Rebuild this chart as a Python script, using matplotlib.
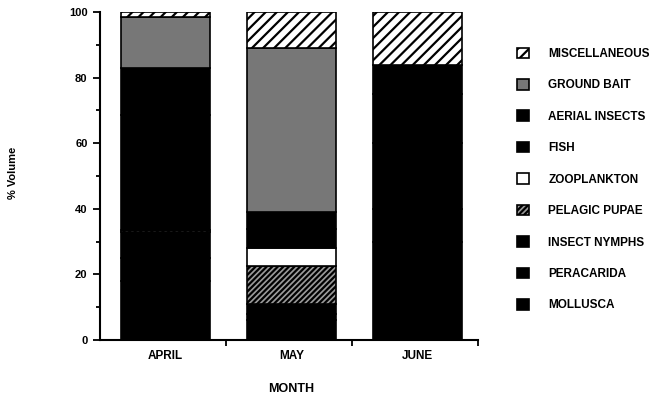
import matplotlib.pyplot as plt
import numpy as np

# =========================
# DATA
# =========================

months = ["APRIL", "MAY", "JUNE"]

categories = [
    "MOLLUSCA", "PERACARIDA", "INSECT NYMPHS", "PELAGIC PUPAE", "ZOOPLANKTON",
    "FISH", "AERIAL INSECTS", "GROUND BAIT", "MISCELLANEOUS",
]

mollusca = [18, 6, 30]
peracarida = [7, 2, 10]
insect_nymphs = [8, 3, 20]
pelagic_pupae = [0.7, 11.5, 0]
zooplankton = [0, 5.5, 0]
fish = [35, 6, 15]
aerial_insects = [14.3, 5, 9]
ground_bait = [15.5, 50, 0]
miscellaneous = [1.5, 11, 16]

values = [mollusca, peracarida, insect_nymphs, pelagic_pupae, zooplankton,
          fish, aerial_insects, ground_bait, miscellaneous]

# =========================
# STYLE
# =========================

styles = {
    "MOLLUSCA": dict(facecolor="black", hatch=None),
    "PERACARIDA": dict(facecolor="black", hatch=None),
    "INSECT NYMPHS": dict(facecolor="black", hatch=None),
    "PELAGIC PUPAE": dict(facecolor="#9a9a9a", hatch="//////"),
    "ZOOPLANKTON": dict(facecolor="white", hatch=None),
    "FISH": dict(facecolor="black", hatch=None),
    "AERIAL INSECTS": dict(facecolor="black", hatch=None),
    "GROUND BAIT": dict(facecolor="#777777", hatch=None),
    "MISCELLANEOUS": dict(facecolor="white", hatch="///"),
}

plt.rcParams["font.family"] = ["Liberation Sans", "DejaVu Sans"]
plt.rcParams["font.weight"] = "bold"
plt.rcParams["hatch.linewidth"] = 1.6

fig = plt.figure(figsize=(6.54, 4.01), dpi=100)
ax = fig.add_axes([0.153, 0.152, 0.578, 0.818])

x = np.arange(len(months)) + 0.52
bottom = np.zeros(len(months))
handles = {}
for cat, vals in zip(categories, values):
    st = styles[cat]
    bars = ax.bar(x, vals, width=0.7, bottom=bottom, facecolor=st["facecolor"],
                  hatch=st["hatch"], edgecolor="black", linewidth=1.2, label=cat)
    handles[cat] = bars
    bottom += np.array(vals)

ax.set_xlim(0, 3)
ax.set_ylim(0, 100)
ax.set_xticks([1, 2, 3])
ax.set_xticklabels([])
ax.set_xticks(x, minor=True)
ax.set_xticklabels(months, minor=True, fontsize=8.5, fontweight="bold")
ax.tick_params(axis="x", which="minor", length=0, pad=7)
ax.tick_params(axis="x", which="major", length=4, width=1.3, direction="out")

ax.set_yticks([0, 20, 40, 60, 80, 100])
ax.set_yticklabels(["0", "20", "40", "60", "80", "100"], fontsize=8, fontweight="bold")
ax.set_yticks([10, 30, 50, 70, 90], minor=True)
ax.tick_params(axis="y", which="major", length=5, width=1.3, direction="out", pad=4)
ax.tick_params(axis="y", which="minor", length=3, width=1.3, direction="out")

for s in ["top", "right"]:
    ax.spines[s].set_visible(False)
for s in ["left", "bottom"]:
    ax.spines[s].set_linewidth(1.5)

fig.text(0.445, 0.015, "MONTH", ha="center", va="bottom", fontsize=9, fontweight="bold")
fig.text(0.02, 0.57, "% Volume", ha="center", va="center", rotation=90,
         fontsize=8, fontweight="bold")

order = list(reversed(categories))
leg = fig.legend([handles[c] for c in order], order, loc="upper left",
                 bbox_to_anchor=(0.775, 0.908), frameon=False, fontsize=8.5,
                 handlelength=1.0, handleheight=1.0, handletextpad=1.6,
                 labelspacing=1.62)
for t in leg.get_texts():
    t.set_fontweight("bold")

fig.savefig("out.png", dpi=100)
